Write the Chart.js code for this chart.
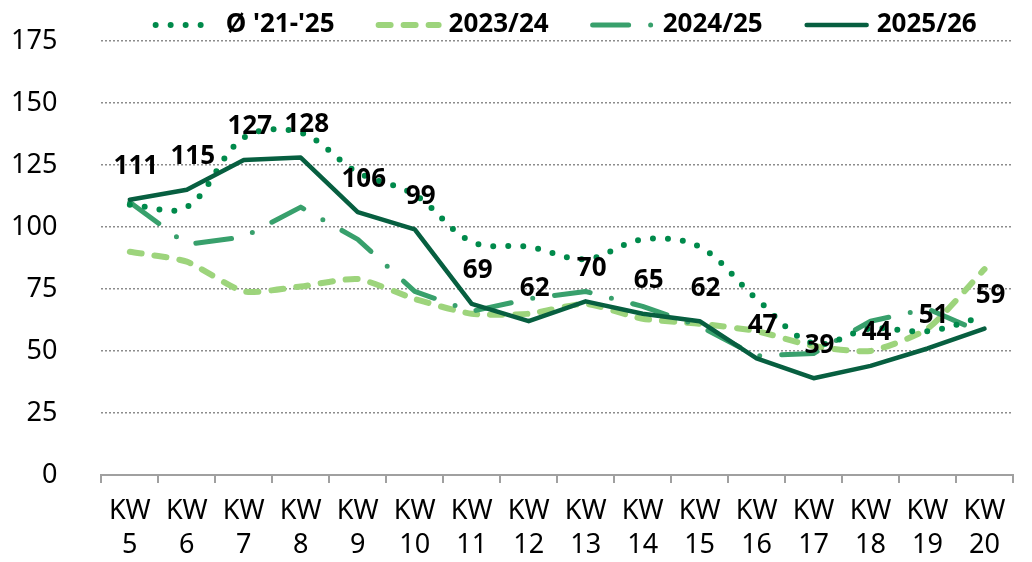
<!DOCTYPE html>
<html>
<head>
<meta charset="utf-8">
<script src="https://cdn.jsdelivr.net/npm/chart.js@4.4.1/dist/chart.umd.min.js"></script>
<style>
    html, body { margin: 0; padding: 0; background: #fff; }
    #wrap { width: 1032px; height: 562px; position: relative; }
</style>
</head>
<body>
<div id="wrap"><canvas id="myChart"></canvas></div>
<script>
// KW 5 .. KW 20
var categories = ["KW 5", "KW 6", "KW 7", "KW 8", "KW 9", "KW 10", "KW 11", "KW 12",
    "KW 13", "KW 14", "KW 15", "KW 16", "KW 17", "KW 18", "KW 19", "KW 20"];
var avg2125 = [109, 108, 136, 138, 122, 113, 94, 92, 87, 95, 92, 71, 53, 59, 58, 64];
var season2324 = [90, 86, 74, 76, 79, 71, 65, 65, 69, 63, 61, 58, 52, 50, 59, 83];
var season2425 = [110, 93, 96, 108, 95, 74, 66, 71, 74, 68, 60, 48, 49, 62, 67, 57];
var season2526 = [111, 115, 127, 128, 106, 99, 69, 62, 70, 65, 62, 47, 39, 44, 51, 59];
var yTicks = [0, 25, 50, 75, 100, 125, 150, 175];

var FONT = '"Noto Sans", "DejaVu Sans", sans-serif';

// value labels above the 2025/26 line
var valueLabels = {
    id: 'valueLabels',
    afterDatasetsDraw: function (chart) {
        var ctx = chart.ctx;
        var meta = chart.getDatasetMeta(3);
        ctx.save();
        ctx.font = 'bold 26px ' + FONT;
        ctx.fillStyle = '#000';
        ctx.textAlign = 'center';
        ctx.textBaseline = 'middle';
        meta.data.forEach(function (pt, i) {
            ctx.fillText(season2526[i], pt.x + 6, pt.y - 33);
        });
        ctx.restore();
    }
};

// legend with line samples (dash styles as in the datasets)
var lineLegend = {
    id: 'lineLegend',
    afterDraw: function (chart) {
        var ctx = chart.ctx;
        var sample = 64, gap = 8, spacing = 42;
        ctx.save();
        ctx.font = 'bold 26px ' + FONT;
        var items = chart.data.datasets.map(function (ds) {
            return {ds: ds, w: ctx.measureText(ds.label).width};
        });
        var total = spacing * (items.length - 1);
        items.forEach(function (it) { total += sample + gap + it.w; });
        var x = (chart.chartArea.left + chart.chartArea.right) / 2 + 8 - total / 2;
        var y = 25;
        items.forEach(function (it) {
            ctx.strokeStyle = it.ds.borderColor;
            ctx.lineWidth = it.ds.borderWidth;
            ctx.lineCap = it.ds.borderCapStyle || 'butt';
            ctx.setLineDash(it.ds.borderDash || []);
            ctx.beginPath();
            ctx.moveTo(x + 2, y);
            ctx.lineTo(x + sample - 2, y);
            ctx.stroke();
            ctx.setLineDash([]);
            ctx.fillStyle = '#000';
            ctx.textAlign = 'left';
            ctx.textBaseline = 'middle';
            ctx.fillText(it.ds.label, x + sample + gap, y);
            x += sample + gap + it.w + spacing;
        });
        ctx.restore();
    }
};

var ctx = document.getElementById("myChart").getContext("2d");

var data = {
    labels: categories.map(function (c) { return c.split(' '); }),
    datasets: [
        {
            label: "Ø '21-'25",
            data: avg2125,
            borderColor: '#008a4b',
            borderWidth: 6,
            borderDash: [0, 15],
            borderCapStyle: 'round',
            tension: 0.35,
            pointRadius: 0,
            fill: false,
            order: 1
        }, {
            label: "2023/24",
            data: season2324,
            borderColor: '#9dd47c',
            borderWidth: 6,
            borderDash: [12, 13],
            borderCapStyle: 'round',
            borderJoinStyle: 'round',
            tension: 0.2,
            pointRadius: 0,
            fill: false,
            order: 3
        }, {
            label: "2024/25",
            data: season2425,
            borderColor: '#38a06c',
            borderWidth: 5,
            borderDash: [36, 22, 0, 22],
            borderCapStyle: 'round',
            borderJoinStyle: 'round',
            pointRadius: 0,
            fill: false,
            order: 2
        }, {
            label: "2025/26",
            data: season2526,
            borderColor: '#075f40',
            borderWidth: 4.5,
            borderCapStyle: 'round',
            borderJoinStyle: 'round',
            pointRadius: 0,
            fill: false,
            order: 0
        }
    ]
};

var myLineChart = new Chart(ctx, {
    type: 'line',
    data: data,
    plugins: [valueLabels, lineLegend],
    options: {
        responsive: true,
        maintainAspectRatio: false,
        animation: false,
        devicePixelRatio: 1,
        layout: {padding: {top: 41, left: 11, right: 19, bottom: -12}},
        plugins: {
            legend: {display: false},
            tooltip: {enabled: false}
        },
        scales: {
            x: {
                offset: true,
                grid: {
                    display: true,
                    drawOnChartArea: false,
                    drawTicks: true,
                    tickLength: 8,
                    offset: true,
                    color: '#a0a0a0',
                    lineWidth: 2
                },
                border: {display: true, color: '#a0a0a0', width: 2},
                ticks: {
                    color: '#000',
                    font: {family: FONT, size: 27, lineHeight: 1.26},
                    padding: 11.5,
                    maxRotation: 0,
                    autoSkip: false
                }
            },
            y: {
                min: yTicks[0],
                max: yTicks[yTicks.length - 1],
                afterBuildTicks: function (scale) {
                    scale.ticks = yTicks.map(function (v) { return {value: v}; });
                },
                grid: {
                    color: '#8c8c8c',
                    lineWidth: 1.5,
                    drawTicks: true,
                    tickLength: 44,
                    tickColor: 'rgba(0,0,0,0)'
                },
                border: {display: false, dash: [2, 2]},
                ticks: {
                    color: '#000',
                    font: {family: FONT, size: 27},
                    padding: 0
                }
            }
        }
    }
});
</script>
</body>
</html>
